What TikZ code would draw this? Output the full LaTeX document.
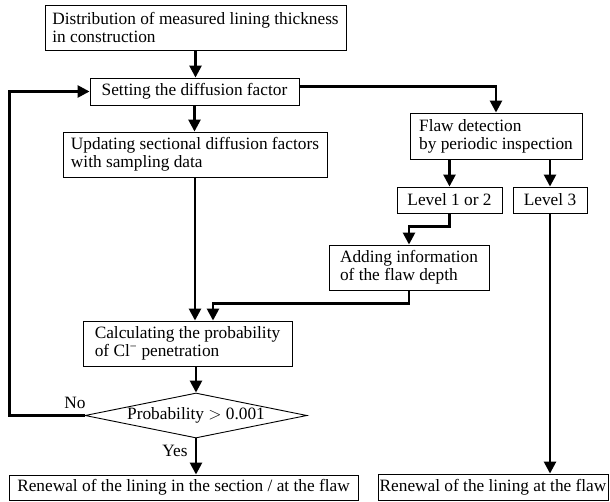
\documentclass[tikz,border=0pt]{standalone}
\usepackage{fontspec}
\setmainfont{Liberation Serif}
\usetikzlibrary{arrows.meta,shapes.geometric}

\tikzset{
  box/.style={draw, line width=0.9pt, align=left, inner sep=0pt, font=\fontsize{17.3}{18}\selectfont},
  lbl/.style={inner sep=0pt, font=\fontsize{17.3}{18}\selectfont},
  flow/.style={line width=2.6pt, -{Triangle[width=12pt,length=12pt]}},
}

\begin{document}
\begin{tikzpicture}[x=1pt,y=-1pt]
\useasboundingbox (0,0) rectangle (610,502);
% left column
\node[box, minimum width=301pt, minimum height=45pt] (dist) at (195.5,27.5) {Distribution of measured lining thickness\\in construction};
\node[box, minimum width=209pt, minimum height=27pt] (diff) at (194.5,91.5) {Setting the diffusion factor};
\node[box, minimum width=264pt, minimum height=45pt] (upd) at (195,154.5) {Updating sectional diffusion factors\\with sampling data};
\node[box, minimum width=209pt, minimum height=45pt] (calc) at (187.5,343.5) {Calculating the probability\\of Cl\textsuperscript{−} penetration};
\node[box, diamond, aspect=4.9, minimum width=222pt, minimum height=45pt] (prob) at (196,415.5) {Probability $>$ 0.001};
\node[box, minimum width=349pt, minimum height=25pt] (renA) at (183.5,487.5) {Renewal of the lining in the section / at the flaw};
% right column
\node[box, minimum width=172pt, minimum height=46pt] (flaw) at (496,136) {Flaw detection\\by periodic inspection};
\node[box, minimum width=105pt, minimum height=26pt] (lvA) at (449.5,200) {Level 1 or 2};
\node[box, minimum width=74pt, minimum height=26pt] (lvB) at (550,200) {Level 3};
\node[box, minimum width=160pt, minimum height=45pt] (add) at (409,267.5) {Adding information\\of the flaw depth};
\node[box, minimum width=230pt, minimum height=26pt] (renB) at (493,487) {Renewal of the lining at the flaw};
\node[lbl] (no) at (75,403) {No};
\node[lbl] (yes) at (175,451) {Yes};

\draw[flow] (dist.south) -- (dist.south |- diff.north);
\draw[flow] (diff.south) -- (diff.south |- upd.north);
\draw[flow] (upd.south) -- (upd.south |- calc.north);
\draw[flow] ([yshift=5pt]diff.east) -| (flaw.north);
\draw[flow] (flaw.south -| lvA.north) -- (lvA.north);
\draw[flow] (flaw.south -| lvB.north) -- (lvB.north);
\draw[flow] (lvA.south) -- ++(0,13) -| (add.north);
\draw[flow] (add.south) -- ++(0,13) -| ([xshift=25.5pt]calc.north);
\draw[flow] (calc.south -| prob.north) -- (prob.north);
\draw[flow] (prob.south) -- (prob.south |- renA.north);
\draw[flow] (prob.west) -- ++(-75,0) |- (diff.west);
\draw[flow] (lvB.south) -- (lvB.south |- renB.north);
\end{tikzpicture}
\end{document}
